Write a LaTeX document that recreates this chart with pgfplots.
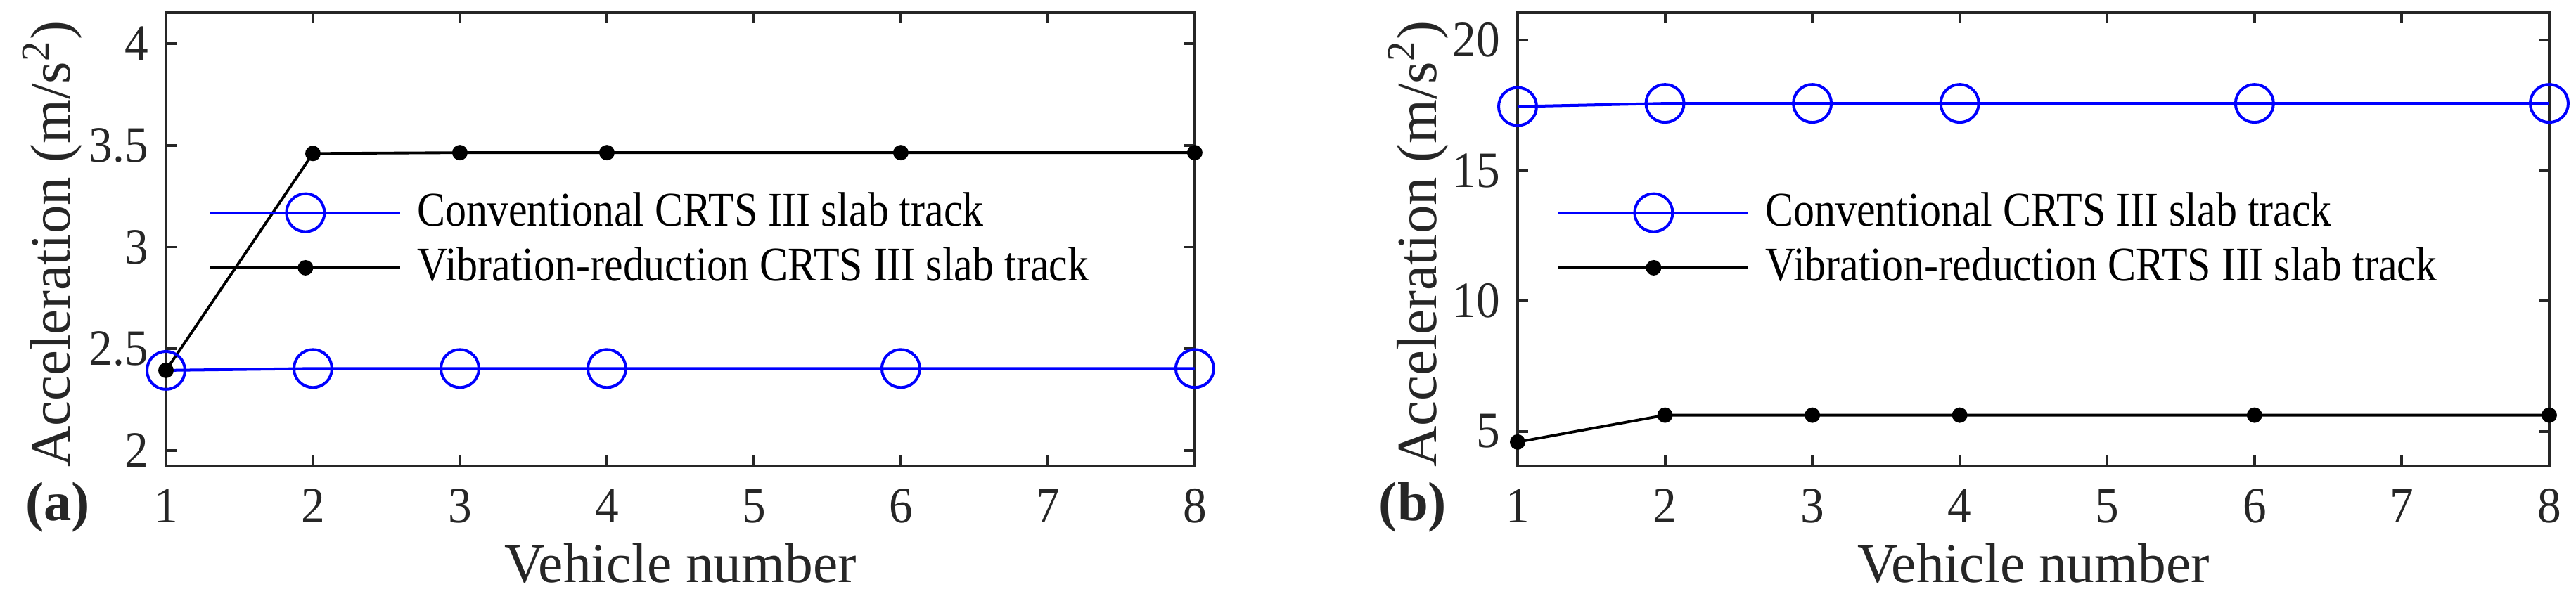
\documentclass[border=0pt]{standalone}
\usepackage{fontspec}
\setmainfont{Liberation Serif}
\newfontfamily\tickfont{Liberation Serif}[FakeStretch=0.93]
\newfontfamily\legfont{Liberation Serif}[FakeStretch=0.87]
\usepackage{pgfplots}
\pgfplotsset{compat=1.18}
\definecolor{axgray}{RGB}{38,38,38}
\definecolor{mblue}{RGB}{0,0,255}

\tikzset{panellab/.style={font=\bfseries\fontsize{11.2}{13}\selectfont, text=axgray}}

\pgfplotsset{
  accstyle/.style={
    scale only axis,
    height=32.25mm,
    xmin=1, xmax=8, xtick={1,2,3,4,5,6,7,8},
    axis line style={axgray, line width=0.55pt},
    tick style={axgray, line width=0.55pt},
    major tick length=0.75mm,
    tick align=inside,
    ticklabel style={font=\tickfont\fontsize{10.3}{12}\selectfont, text=axgray},
    xticklabel style={yshift=-0.4mm},
    /pgf/number format/assume math mode=true,
    xlabel={Vehicle number},
    ylabel={Acceleration (m/s\textsuperscript{2})},
    xlabel style={font=\fontsize{11.3}{13}\selectfont, text=axgray,
      at={(axis description cs:0.5,-0.215)}, anchor=center},
    ylabel style={font=\fontsize{11.5}{13}\selectfont, text=axgray},
    clip=false,
    legend cell align=left,
    legend style={draw=none, fill=none, anchor=west,
      font=\legfont\fontsize{9.8}{11}\selectfont,
      inner xsep=0pt, inner ysep=0pt,
      nodes={inner sep=0pt, text depth=0.15em},
      row sep=1.0mm, column sep=1.1mm},
    legend image code/.code={
      \draw[mark repeat=2, mark phase=2]
        plot coordinates {(0mm,0mm) (6.75mm,0mm) (13.5mm,0mm)};},
  },
  convline/.style={color=mblue, line width=0.57pt, mark=o, mark size=1.35mm,
    mark options={line width=0.57pt}},
  vibline/.style={color=black, line width=0.55pt, mark=*, mark size=0.45mm},
}

\begin{document}
\begin{tikzpicture}
\useasboundingbox (-11.8mm,-9.6mm) rectangle (171.35mm,33.15mm);

% (a)
\begin{axis}[accstyle,
    at={(0mm,0mm)}, anchor=south west,
    width=73.15mm,
    ymin=1.924, ymax=4.152,
    ytick={2,2.5,3,3.5,4},
    ylabel style={at={(axis description cs:-0.093,0.49)}, anchor=base},
    legend style={at={(axis description cs:0.041,0.498)}},
  ]
  \addplot[convline] coordinates {
    (1,2.394) (2,2.403) (3,2.403) (4,2.403) (6,2.403) (8,2.403)};
  \addlegendentry{Conventional CRTS III slab track}
  \addplot[vibline] coordinates {
    (1,2.394) (2,3.460) (3,3.464) (4,3.464) (6,3.464) (8,3.464)};
  \addlegendentry{Vibration-reduction CRTS III slab track}
  \node[panellab] at (axis description cs:0,0) [xshift=-7.7mm, yshift=-2.95mm] {(a)};
\end{axis}

% (b)
\begin{axis}[accstyle,
    at={(96.1mm,0mm)}, anchor=south west,
    width=73.35mm,
    ymin=3.67, ymax=21.05,
    ytick={5,10,15,20},
    ylabel style={at={(axis description cs:-0.079,0.49)}, anchor=base},
    legend style={at={(axis description cs:0.0375,0.498)}},
  ]
  \addplot[convline] coordinates {
    (1,17.45) (2,17.57) (3,17.57) (4,17.57) (6,17.57) (8,17.57)};
  \addlegendentry{Conventional CRTS III slab track}
  \addplot[vibline] coordinates {
    (1,4.59) (2,5.62) (3,5.62) (4,5.62) (6,5.62) (8,5.62)};
  \addlegendentry{Vibration-reduction CRTS III slab track}
  \node[panellab] at (axis description cs:0,0) [xshift=-7.45mm, yshift=-2.95mm] {(b)};
\end{axis}
\end{tikzpicture}
\end{document}
